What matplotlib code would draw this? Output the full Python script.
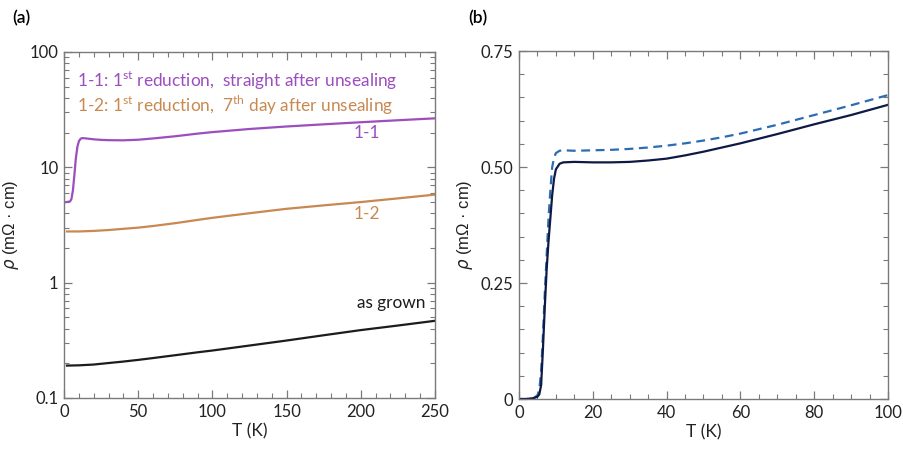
import matplotlib
matplotlib.use("Agg")
import matplotlib.pyplot as plt
from matplotlib.ticker import MultipleLocator, LogLocator, FixedLocator, NullFormatter, FixedFormatter

plt.rcParams['font.family'] = ['Lato', 'DejaVu Sans']
plt.rcParams['mathtext.fontset'] = 'custom'
plt.rcParams['mathtext.rm'] = 'Lato'
plt.rcParams['mathtext.it'] = 'DejaVu Sans:italic'

# ---- Panel (a) data ----
T_11 = [1.5, 4, 5, 6, 7, 8, 9, 10, 11, 12, 13, 15, 20, 25, 30, 40, 50, 60, 75, 90, 100, 125, 150, 175, 200, 225, 250]
rho_11 = [5.0, 5.05, 5.3, 6.3, 8.6, 12.0, 15.0, 16.8, 17.6, 17.9, 17.9, 17.8, 17.5, 17.3, 17.2, 17.15, 17.35, 17.8, 18.6, 19.6, 20.2, 21.5, 22.6, 23.6, 24.6, 25.6, 26.6]

T_12 = [2, 10, 20, 30, 40, 50, 60, 75, 90, 100, 125, 150, 175, 200, 225, 250]
rho_12 = [2.78, 2.78, 2.81, 2.86, 2.93, 3.0, 3.1, 3.28, 3.5, 3.65, 4.0, 4.37, 4.68, 5.0, 5.38, 5.8]

T_ag = [2, 10, 20, 30, 40, 50, 60, 75, 90, 100, 125, 150, 175, 200, 225, 250]
rho_ag = [0.191, 0.192, 0.195, 0.201, 0.207, 0.214, 0.222, 0.235, 0.249, 0.258, 0.285, 0.315, 0.35, 0.388, 0.425, 0.467]

# ---- Panel (b) data ----
T_b_solid = [0, 2, 4, 5, 5.5, 6, 6.5, 7, 7.5, 8, 8.5, 9, 9.5, 10, 11, 12, 15, 20, 25, 30, 35, 40, 45, 50, 55, 60, 70, 80, 90, 100]
rho_b_solid = [0.0, 0.0, 0.002, 0.005, 0.01, 0.03, 0.11, 0.20, 0.28, 0.34, 0.39, 0.44, 0.475, 0.495, 0.507, 0.510, 0.511, 0.510, 0.510, 0.511, 0.514, 0.518, 0.525, 0.533, 0.542, 0.551, 0.571, 0.592, 0.612, 0.634]

T_b_dash = [0, 2, 4, 5, 5.5, 6, 6.5, 7, 7.5, 8, 8.5, 9, 9.5, 10, 11, 12, 15, 20, 25, 30, 35, 40, 45, 50, 55, 60, 70, 80, 90, 100]
rho_b_dash = [0.0, 0.0, 0.002, 0.008, 0.02, 0.06, 0.14, 0.23, 0.31, 0.39, 0.45, 0.50, 0.52, 0.530, 0.535, 0.536, 0.535, 0.536, 0.537, 0.539, 0.542, 0.546, 0.551, 0.557, 0.564, 0.572, 0.591, 0.612, 0.633, 0.655]

c_purple = '#9C4DBE'
c_orange = '#C88950'
c_black = '#1c1c1c'
c_navy = '#0E1A45'
c_blue = '#2C6DB2'
spine_c = '#7a7a7a'
text_c = '#222222'

fig = plt.figure(figsize=(9.04, 4.54), dpi=100)
axa = fig.add_axes([64/904, 1-398/454, (435-64)/904, (398-52)/454])
axb = fig.add_axes([519/904, 1-399/454, (888-519)/904, (399-51)/454])

def style(ax):
    for s in ax.spines.values():
        s.set_color(spine_c)
        s.set_linewidth(1.0)
    ax.tick_params(which='both', direction='in', top=True, right=True,
                   color=spine_c, labelcolor=text_c, labelsize=12, pad=4)
    ax.tick_params(which='major', length=6, width=0.9)
    ax.tick_params(which='minor', length=3.5, width=0.8)

# Panel (a)
axa.plot(T_11, rho_11, color=c_purple, lw=1.6)
axa.plot(T_12, rho_12, color=c_orange, lw=1.6)
axa.plot(T_ag, rho_ag, color=c_black, lw=1.6)
axa.set_yscale('log')
axa.set_xlim(0, 250)
axa.set_ylim(0.1, 100)
axa.xaxis.set_major_locator(MultipleLocator(50))
axa.xaxis.set_minor_locator(MultipleLocator(10))
axa.yaxis.set_major_locator(FixedLocator([0.1, 1, 10, 100]))
axa.yaxis.set_major_formatter(FixedFormatter(['0.1', '1', '10', '100']))
axa.yaxis.set_minor_locator(LogLocator(base=10, subs=range(2, 10)))
axa.yaxis.set_minor_formatter(NullFormatter())
style(axa)
axa.set_xlabel('T (K)', fontsize=12.5, color=text_c, labelpad=3)
axa.set_ylabel(r'$\rho$ (mΩ · cm)', fontsize=12, color=text_c, labelpad=6,
               family=['Liberation Sans', 'DejaVu Sans'])

axa.text(0.035, 0.948, r'1-1: 1$^{\mathrm{st}}$ reduction,  straight after unsealing',
         transform=axa.transAxes, color=c_purple, fontsize=12.4, va='top', ha='left')
axa.text(0.035, 0.878, r'1-2: 1$^{\mathrm{st}}$ reduction,  7$^{\mathrm{th}}$ day after unsealing',
         transform=axa.transAxes, color=c_orange, fontsize=12.4, va='top', ha='left')
axa.text(0.815, 0.765, '1-1', transform=axa.transAxes, color=c_purple, fontsize=12.4, ha='center', va='center')
axa.text(0.815, 0.533, '1-2', transform=axa.transAxes, color=c_orange, fontsize=12.4, ha='center', va='center')
axa.text(0.975, 0.275, 'as grown', transform=axa.transAxes, color=c_black, fontsize=12.4, ha='right', va='center')

# Panel (b)
axb.plot(T_b_dash, rho_b_dash, color=c_blue, lw=1.6, ls=(0, (4, 2.5)))
axb.plot(T_b_solid, rho_b_solid, color=c_navy, lw=1.6)
axb.set_xlim(0, 100)
axb.set_ylim(0, 0.75)
axb.xaxis.set_major_locator(MultipleLocator(20))
axb.xaxis.set_minor_locator(MultipleLocator(5))
axb.yaxis.set_major_locator(FixedLocator([0, 0.25, 0.5, 0.75]))
axb.yaxis.set_major_formatter(FixedFormatter(['0', '0.25', '0.50', '0.75']))
axb.yaxis.set_minor_locator(MultipleLocator(0.05))
style(axb)
axb.set_xlabel('T (K)', fontsize=12.5, color=text_c, labelpad=3)
axb.set_ylabel(r'$\rho$ (mΩ · cm)', fontsize=12, color=text_c, labelpad=4,
               family=['Liberation Sans', 'DejaVu Sans'])

fig.text(12/904, 1-18/454, '(a)', fontsize=12.5, fontweight='semibold', color='black', va='center', ha='left')
fig.text(468/904, 1-18/454, '(b)', fontsize=12.5, fontweight='semibold', color='black', va='center', ha='left')

fig.savefig('out.png', dpi=100)
